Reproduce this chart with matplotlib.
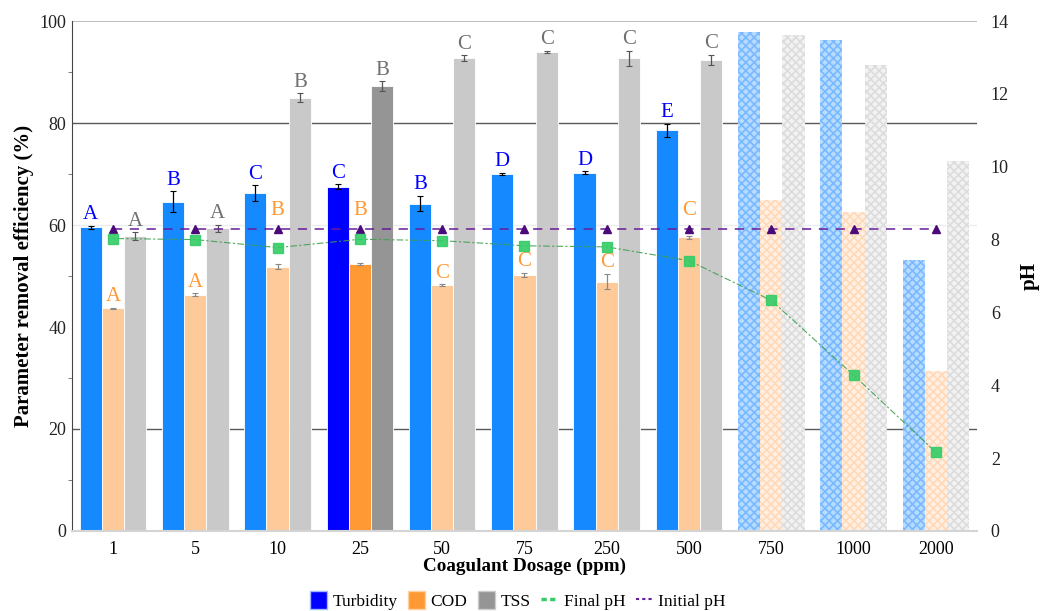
import numpy as np
import matplotlib
matplotlib.use("Agg")
import matplotlib.pyplot as plt
from matplotlib.patches import Patch
from matplotlib.lines import Line2D

plt.rcParams['font.family'] = ['Liberation Serif', 'DejaVu Serif']
plt.rcParams['hatch.linewidth'] = 1.2

# data
dosage = ['1', '5', '10', '25', '50', '75', '250', '500', '750', '1000', '2000']
turbidity = [59.6, 64.6, 66.3, 67.5, 64.2, 70.0, 70.3, 78.6, 97.8, 96.2, 53.1]
turbidity_err = [0.3, 2.0, 1.5, 0.5, 1.5, 0.2, 0.2, 1.3, 0, 0, 0]
cod = [43.7, 46.3, 51.8, 52.3, 48.2, 50.2, 48.9, 57.6, 65.0, 62.6, 31.4]
cod_err = [0.1, 0.3, 0.5, 0.2, 0.2, 0.4, 1.5, 0.3, 0, 0, 0]
tss = [57.8, 59.4, 85.0, 87.2, 92.7, 94.0, 92.7, 92.4, 97.3, 91.4, 72.5]
tss_err = [0.8, 0.7, 0.8, 1.0, 0.6, 0.2, 1.5, 1.0, 0, 0, 0]
final_ph = [8.03, 8.0, 7.78, 8.01, 7.97, 7.83, 7.80, 7.42, 6.33, 4.28, 2.16]
initial_ph = [8.3] * 11
turb_letters = ['A', 'B', 'C', 'C', 'B', 'D', 'D', 'E']
cod_letters = ['A', 'A', 'B', 'B', 'C', 'C', 'C', 'C']
tss_letters = ['A', 'A', 'B', 'B', 'C', 'C', 'C', 'C']

best = 3          # 25 ppm highlighted
n_tested = 8      # groups with letters / solid bars

x = np.arange(len(dosage))
w = 0.27

fig = plt.figure(figsize=(10.42, 6.11), dpi=100)
ax = fig.add_axes([0.069, 0.131, 0.8686, 0.8345])
ax2 = ax.twinx()

series = [
    (turbidity, turbidity_err, -w, '#1589FF', '#0000FF', '#7ab8ff', '#b8dcff', 'k', turb_letters, '#0000FF'),
    (cod, cod_err, 0, '#FFCA99', '#FF9933', '#ffd9b8', '#fff0e3', '#888888', cod_letters, '#FF9933'),
    (tss, tss_err, w, '#C9C9C9', '#959595', '#dcdcdc', '#f2f2f2', '#555555', tss_letters, '#707070'),
]

for vals, errs, off, col, hcol, hatchc, hface, ecol, letters, lcol in series:
    for i in range(len(dosage)):
        if i < n_tested:
            c = hcol if i == best else col
            ax.bar(x[i] + off, vals[i], w, color=c, edgecolor='white', linewidth=0.6, zorder=2)
            ax.errorbar(x[i] + off, vals[i], yerr=errs[i], fmt='none', ecolor=ecol,
                        elinewidth=0.9, capsize=2, capthick=0.8, zorder=3)
            top = vals[i] + errs[i] + 0.3
            # COD letters that would sit on the pH lines are lifted above them
            if lcol == '#FF9933' and top > 52:
                top = 61.0
            ax.text(x[i] + off, top, letters[i], color=lcol, ha='center', va='bottom',
                    fontsize=15, zorder=5)
        else:
            ax.bar(x[i] + off, vals[i], w, color=hface, edgecolor=hatchc, linewidth=0,
                   hatch='xxxx', zorder=2)

ax.set_xlim(-0.5, len(dosage) - 0.5)
ax.set_ylim(0, 100)
ax.set_xticks(x)
ax.set_xticklabels(dosage, fontsize=13)
ax.set_yticks([0, 20, 40, 60, 80, 100])
ax.set_yticks([10, 30, 50, 70, 90], minor=True)
ax.tick_params(axis='y', which='major', labelsize=13, length=0, pad=4, colors='#222222')
ax.tick_params(axis='y', which='minor', length=3, color='#666666')
ax.tick_params(axis='x', length=0, labelsize=13, pad=7)

# horizontal gridlines (styled like the original)
ax.axhline(100, color='#b0b0b0', lw=1.2, zorder=1)
ax.axhline(80, color='#5a5a5a', lw=1.0, zorder=1)
ax.axhline(60, color='#ececec', lw=1.0, zorder=1)
ax.axhline(20, color='#5a5a5a', lw=1.0, zorder=1)

for s in ['top', 'right']:
    ax.spines[s].set_visible(False)
ax.spines['left'].set_color('#444444')
ax.spines['bottom'].set_color('#d4d4d4')
ax.spines['bottom'].set_linewidth(1.5)

ax.set_xlabel('Coagulant Dosage (ppm)', fontsize=13.8, fontweight='bold', labelpad=0)
ax.set_ylabel('Parameter removal efficiency (%)', fontsize=15, fontweight='bold', labelpad=4)

# pH on right axis
ax2.plot(x, initial_ph, color='#6a1b9a', ls=(0, (6, 5)), lw=1.1, marker='^',
         ms=6, mfc='#4b0a7a', mec='#4b0a7a', zorder=6)
ax2.plot(x, final_ph, color='#3f9f50', ls=(0, (2, 2, 6, 2)), lw=0.8, marker='s',
         ms=6.5, mfc='#33cc66', mec='#33cc66', zorder=6, alpha=0.9)
ax2.set_ylim(0, 14)
ax2.set_yticks(np.arange(0, 15, 2))
ax2.tick_params(axis='y', length=0, labelsize=13, pad=10, colors='#222222')
ax2.set_ylabel('pH', fontsize=15, fontweight='bold', labelpad=8)
for s in ['top', 'right', 'left', 'bottom']:
    ax2.spines[s].set_visible(False)
ax.set_zorder(ax2.get_zorder() - 1)
ax.patch.set_visible(True)
ax2.patch.set_visible(False)

handles = [
    Patch(facecolor='#0000FF', edgecolor='#9fb8ff', label='Turbidity'),
    Patch(facecolor='#FF9933', edgecolor='#ffd0a0', label='COD'),
    Patch(facecolor='#959595', edgecolor='#cccccc', label='TSS'),
    Line2D([0], [0], color='#33cc66', ls=(0, (1.5, 1)), lw=2.5, label='Final pH'),
    Line2D([0], [0], color='#6a1b9a', ls=(0, (1.5, 1.5)), lw=1.5, label='Initial pH'),
]
fig.legend(handles=handles, loc='lower center', bbox_to_anchor=(0.497, -0.024), ncol=5,
           frameon=False, fontsize=12.5, handlelength=1.0, handletextpad=0.3,
           columnspacing=0.6, handleheight=1.2)

fig.savefig('out.png', dpi=100)
